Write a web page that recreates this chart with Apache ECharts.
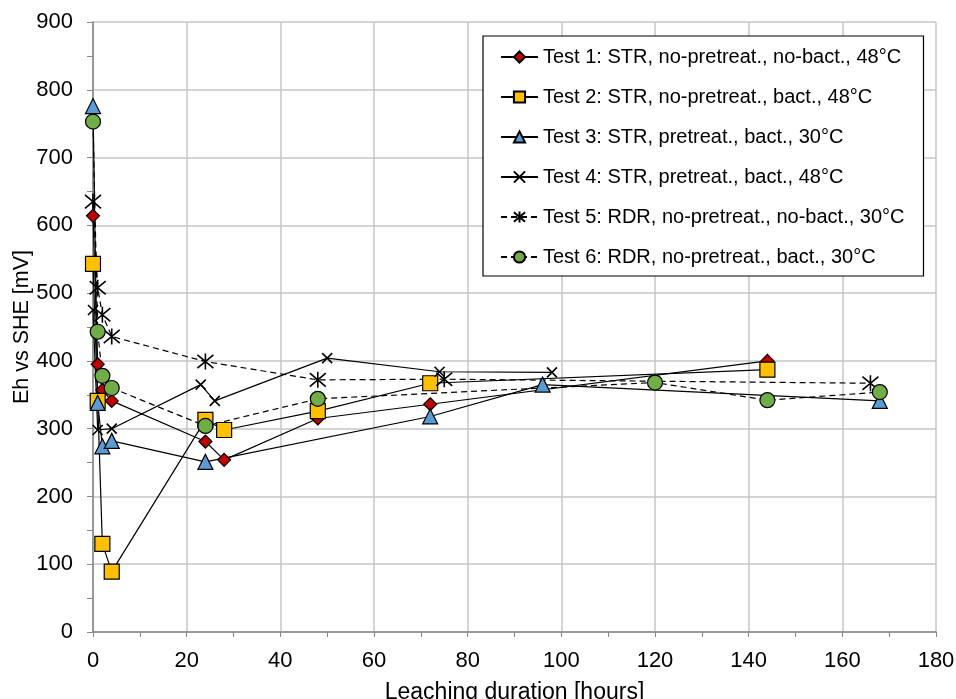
<!DOCTYPE html>
<html>
<head>
<meta charset="utf-8">
<script src="https://cdn.jsdelivr.net/npm/echarts@6/dist/echarts.min.js"></script>
<style>
  html, body { margin: 0; padding: 0; background: #fff; }
  #main { width: 956px; height: 699px; }
</style>
</head>
<body>
<div id="main"></div>
<script>
// values: [hours, mV]
const test1 = [[0, 614], [1, 395], [2, 357], [4, 341], [24, 281], [28, 254], [48, 315], [72, 336], [144, 400]];
const test2 = [[0, 543], [1, 341], [2, 130], [4, 89], [24, 313], [28, 298], [48, 326], [72, 367], [144, 387]];
const test3 = [[0, 776], [1, 338], [2, 274], [4, 282], [24, 251], [72, 318], [96, 365], [168, 341]];
const test4 = [[0, 475], [1, 298], [4, 300], [23, 365], [26, 341], [50, 404], [74, 384], [98, 383]];
const test5 = [[0, 635], [1, 508], [2, 468], [4, 436], [24, 399], [48, 372], [75, 373], [166, 367]];
const test6 = [[0, 753], [1, 443], [2, 378], [4, 360], [24, 304], [48, 344], [120, 368], [144, 342], [168, 354]];

const seriesNames = [
  "Test 1: STR, no-pretreat., no-bact., 48°C",
  "Test 2: STR, no-pretreat., bact., 48°C",
  "Test 3: STR, pretreat., bact., 30°C",
  "Test 4: STR, pretreat., bact., 48°C",
  "Test 5: RDR, no-pretreat., no-bact., 30°C",
  "Test 6: RDR, no-pretreat., bact., 30°C"
];

const FONT = "Liberation Sans, Arial, sans-serif";
const xPath = "path://M0,0L10,10M10,0L0,10";
const starPath = "path://M0,0L10,10M10,0L0,10M5,-1L5,11";

function makeSeries(name, data, symbol, size, color, dashed) {
  return {
    name: name,
    type: "line",
    data: data,
    symbol: symbol,
    symbolSize: size,
    showAllSymbol: true,
    lineStyle: { color: "#000", width: 1.2, type: dashed ? [6, 4] : "solid" },
    itemStyle: {
      color: color,
      borderColor: "#000",
      borderWidth: color === "#000" ? 1.6 : 1.2
    },
    emphasis: { disabled: true },
    animation: false
  };
}

const chart = echarts.init(document.getElementById("main"));

const option = {
  backgroundColor: "#fff",
  grid: { left: 93, right: 20, top: 22, bottom: 67, containLabel: false, outerBoundsMode: "none" },
  legend: {
    orient: "vertical",
    left: 483,
    top: 36,
    padding: [11, 19, 9, 17],
    itemWidth: 37,
    itemHeight: 14,
    itemGap: 20,
    backgroundColor: "#fff",
    borderColor: "#000",
    borderWidth: 1.2,
    borderRadius: 0,
    textStyle: { fontFamily: FONT, fontSize: 20, color: "#000" },
    data: seriesNames
  },
  xAxis: {
    type: "value",
    min: 0,
    max: 180,
    interval: 20,
    name: "Leaching duration [hours]",
    nameLocation: "middle",
    nameGap: 49,
    nameMoveOverlap: false,
    nameTextStyle: { fontFamily: FONT, fontSize: 23, color: "#000" },
    axisLine: { show: true, onZero: false, lineStyle: { color: "#868686", width: 1.5 } },
    axisTick: { show: true, length: 5, lineStyle: { color: "#868686" } },
    minorTick: { show: true, splitNumber: 2, length: 5, lineStyle: { color: "#868686" } },
    axisLabel: { fontFamily: FONT, fontSize: 22, color: "#000", margin: 18 },
    splitLine: { show: true, lineStyle: { color: "#c6c6c6", width: 1.5 } }
  },
  yAxis: {
    type: "value",
    min: 0,
    max: 900,
    interval: 100,
    name: "Eh vs SHE [mV]",
    nameLocation: "middle",
    nameGap: 60,
    nameMoveOverlap: false,
    nameTextStyle: { fontFamily: FONT, fontSize: 21.5, color: "#000" },
    axisLine: { show: true, onZero: false, lineStyle: { color: "#868686", width: 1.5 } },
    axisTick: { show: true, length: 6, lineStyle: { color: "#868686" } },
    minorTick: { show: true, splitNumber: 2, length: 6, lineStyle: { color: "#868686" } },
    axisLabel: { fontFamily: FONT, fontSize: 22, color: "#000", margin: 20 },
    splitLine: { show: true, lineStyle: { color: "#c6c6c6", width: 1.5 } }
  },
  series: [
    makeSeries(seriesNames[0], test1, "diamond", 13, "#c00000", false),
    makeSeries(seriesNames[1], test2, "rect", 15, "#ffc000", false),
    makeSeries(seriesNames[2], test3, "triangle", 15, "#5b9bd5", false),
    makeSeries(seriesNames[3], test4, xPath, 10, "#000", false),
    makeSeries(seriesNames[4], test5, starPath, 16, "#000", true),
    makeSeries(seriesNames[5], test6, "circle", 15, "#70ad47", true)
  ]
};

chart.setOption(option);
</script>
</body>
</html>
